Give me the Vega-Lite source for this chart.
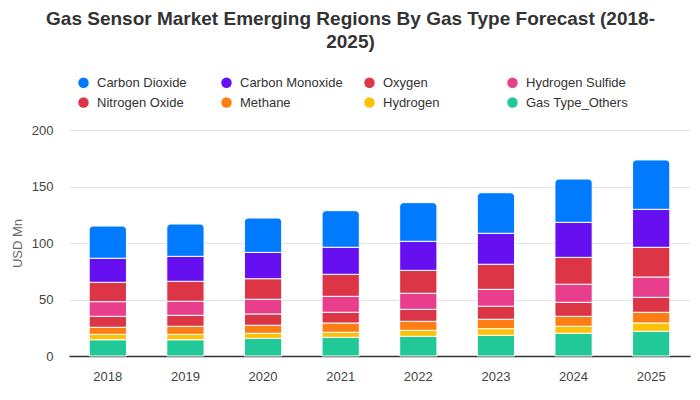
{
  "$schema": "https://vega.github.io/schema/vega-lite/v6.json",
  "width": 621,
  "height": 226,
  "autosize": "none",
  "padding": {"left": 69, "top": 130, "right": 10, "bottom": 44},
  "background": "white",
  "config": {"font": "Liberation Sans", "view": {"stroke": null}},
  "title": {
    "text": ["Gas Sensor Market Emerging Regions By Gas Type Forecast (2018-", "2025)"],
    "font": "Liberation Sans",
    "fontSize": 19,
    "fontWeight": "bold",
    "color": "#333333",
    "anchor": "middle",
    "dx": -29,
    "offset": 24,
    "lineHeight": 23
  },
  "data": {
    "values": [
      {"year": "2018", "gas": "Gas Type_Others", "value": 14.4},
      {"year": "2018", "gas": "Hydrogen", "value": 4.8},
      {"year": "2018", "gas": "Methane", "value": 6.2},
      {"year": "2018", "gas": "Nitrogen Oxide", "value": 9.7},
      {"year": "2018", "gas": "Hydrogen Sulfide", "value": 13.0},
      {"year": "2018", "gas": "Oxygen", "value": 17.1},
      {"year": "2018", "gas": "Carbon Monoxide", "value": 21.3},
      {"year": "2018", "gas": "Carbon Dioxide", "value": 28.5},
      {"year": "2019", "gas": "Gas Type_Others", "value": 14.4},
      {"year": "2019", "gas": "Hydrogen", "value": 4.8},
      {"year": "2019", "gas": "Methane", "value": 7.1},
      {"year": "2019", "gas": "Nitrogen Oxide", "value": 9.7},
      {"year": "2019", "gas": "Hydrogen Sulfide", "value": 12.4},
      {"year": "2019", "gas": "Oxygen", "value": 17.7},
      {"year": "2019", "gas": "Carbon Monoxide", "value": 22.1},
      {"year": "2019", "gas": "Carbon Dioxide", "value": 28.6},
      {"year": "2020", "gas": "Gas Type_Others", "value": 15.6},
      {"year": "2020", "gas": "Hydrogen", "value": 4.5},
      {"year": "2020", "gas": "Methane", "value": 7.1},
      {"year": "2020", "gas": "Nitrogen Oxide", "value": 10.0},
      {"year": "2020", "gas": "Hydrogen Sulfide", "value": 13.0},
      {"year": "2020", "gas": "Oxygen", "value": 18.2},
      {"year": "2020", "gas": "Carbon Monoxide", "value": 23.3},
      {"year": "2020", "gas": "Carbon Dioxide", "value": 30.4},
      {"year": "2021", "gas": "Gas Type_Others", "value": 16.5},
      {"year": "2021", "gas": "Hydrogen", "value": 4.5},
      {"year": "2021", "gas": "Methane", "value": 8.2},
      {"year": "2021", "gas": "Nitrogen Oxide", "value": 9.5},
      {"year": "2021", "gas": "Hydrogen Sulfide", "value": 14.1},
      {"year": "2021", "gas": "Oxygen", "value": 19.5},
      {"year": "2021", "gas": "Carbon Monoxide", "value": 23.9},
      {"year": "2021", "gas": "Carbon Dioxide", "value": 32.4},
      {"year": "2022", "gas": "Gas Type_Others", "value": 17.4},
      {"year": "2022", "gas": "Hydrogen", "value": 5.3},
      {"year": "2022", "gas": "Methane", "value": 8.0},
      {"year": "2022", "gas": "Nitrogen Oxide", "value": 10.6},
      {"year": "2022", "gas": "Hydrogen Sulfide", "value": 14.2},
      {"year": "2022", "gas": "Oxygen", "value": 20.3},
      {"year": "2022", "gas": "Carbon Monoxide", "value": 25.7},
      {"year": "2022", "gas": "Carbon Dioxide", "value": 34.2},
      {"year": "2023", "gas": "Gas Type_Others", "value": 18.3},
      {"year": "2023", "gas": "Hydrogen", "value": 5.9},
      {"year": "2023", "gas": "Methane", "value": 8.3},
      {"year": "2023", "gas": "Nitrogen Oxide", "value": 11.5},
      {"year": "2023", "gas": "Hydrogen Sulfide", "value": 15.0},
      {"year": "2023", "gas": "Oxygen", "value": 22.2},
      {"year": "2023", "gas": "Carbon Monoxide", "value": 27.4},
      {"year": "2023", "gas": "Carbon Dioxide", "value": 35.9},
      {"year": "2024", "gas": "Gas Type_Others", "value": 20.1},
      {"year": "2024", "gas": "Hydrogen", "value": 6.2},
      {"year": "2024", "gas": "Methane", "value": 8.8},
      {"year": "2024", "gas": "Nitrogen Oxide", "value": 12.4},
      {"year": "2024", "gas": "Hydrogen Sulfide", "value": 16.0},
      {"year": "2024", "gas": "Oxygen", "value": 23.8},
      {"year": "2024", "gas": "Carbon Monoxide", "value": 31.0},
      {"year": "2024", "gas": "Carbon Dioxide", "value": 38.3},
      {"year": "2025", "gas": "Gas Type_Others", "value": 21.9},
      {"year": "2025", "gas": "Hydrogen", "value": 7.3},
      {"year": "2025", "gas": "Methane", "value": 9.5},
      {"year": "2025", "gas": "Nitrogen Oxide", "value": 13.2},
      {"year": "2025", "gas": "Hydrogen Sulfide", "value": 18.0},
      {"year": "2025", "gas": "Oxygen", "value": 26.3},
      {"year": "2025", "gas": "Carbon Monoxide", "value": 33.6},
      {"year": "2025", "gas": "Carbon Dioxide", "value": 43.7}
    ]
  },
  "transform": [
    {"stack": "value", "groupby": ["year"], "as": ["v0", "v1"]}
  ],
  "encoding": {
    "x": {
      "field": "year",
      "type": "ordinal",
      "scale": {"paddingInner": 0.52, "paddingOuter": 0.26},
      "axis": {
        "title": null,
        "labelAngle": 0,
        "labelFontSize": 13,
        "labelColor": "#444444",
        "labelPadding": 14,
        "ticks": false,
        "domainColor": "#333333",
        "domainWidth": 1.5
      }
    },
    "y": {
      "field": "v0",
      "type": "quantitative",
      "scale": {"domain": [0, 200]},
      "axis": {
        "title": "USD Mn",
        "titleFontSize": 13,
        "titleFontWeight": "normal",
        "titleColor": "#666666",
        "titlePadding": 7,
        "values": [0, 50, 100, 150, 200],
        "labelFontSize": 13,
        "labelColor": "#444444",
        "labelPadding": 16,
        "ticks": false,
        "domain": false,
        "gridColor": "#e3e3e3"
      }
    },
    "y2": {"field": "v1"},
    "color": {
      "field": "gas",
      "type": "nominal",
      "scale": {
        "domain": ["Carbon Dioxide", "Carbon Monoxide", "Oxygen", "Hydrogen Sulfide", "Nitrogen Oxide", "Methane", "Hydrogen", "Gas Type_Others"],
        "range": ["#007bff", "#6610f2", "#dc3545", "#e83e8c", "#dc3545", "#fd7e14", "#ffc107", "#20c997"]
      },
      "legend": {
        "title": null,
        "orient": "none",
        "direction": "horizontal",
        "legendX": 8,
        "legendY": -54,
        "columns": 4,
        "gridAlign": "all",
        "columnPadding": 20,
        "rowPadding": 6,
        "symbolType": "circle",
        "symbolSize": 110,
        "symbolStrokeWidth": 0,
        "symbolOpacity": 1,
        "labelFontSize": 13,
        "labelColor": "#333333",
        "labelOffset": 7,
        "labelLimit": 200
      }
    }
  },
  "layer": [
    {
      "transform": [{"filter": "datum.gas !== 'Carbon Dioxide'"}],
      "mark": {"type": "bar", "stroke": "white", "strokeWidth": 1}
    },
    {
      "transform": [{"filter": "datum.gas === 'Carbon Dioxide'"}],
      "mark": {"type": "bar", "stroke": "white", "strokeWidth": 1, "cornerRadiusTopLeft": 4, "cornerRadiusTopRight": 4}
    }
  ]
}
